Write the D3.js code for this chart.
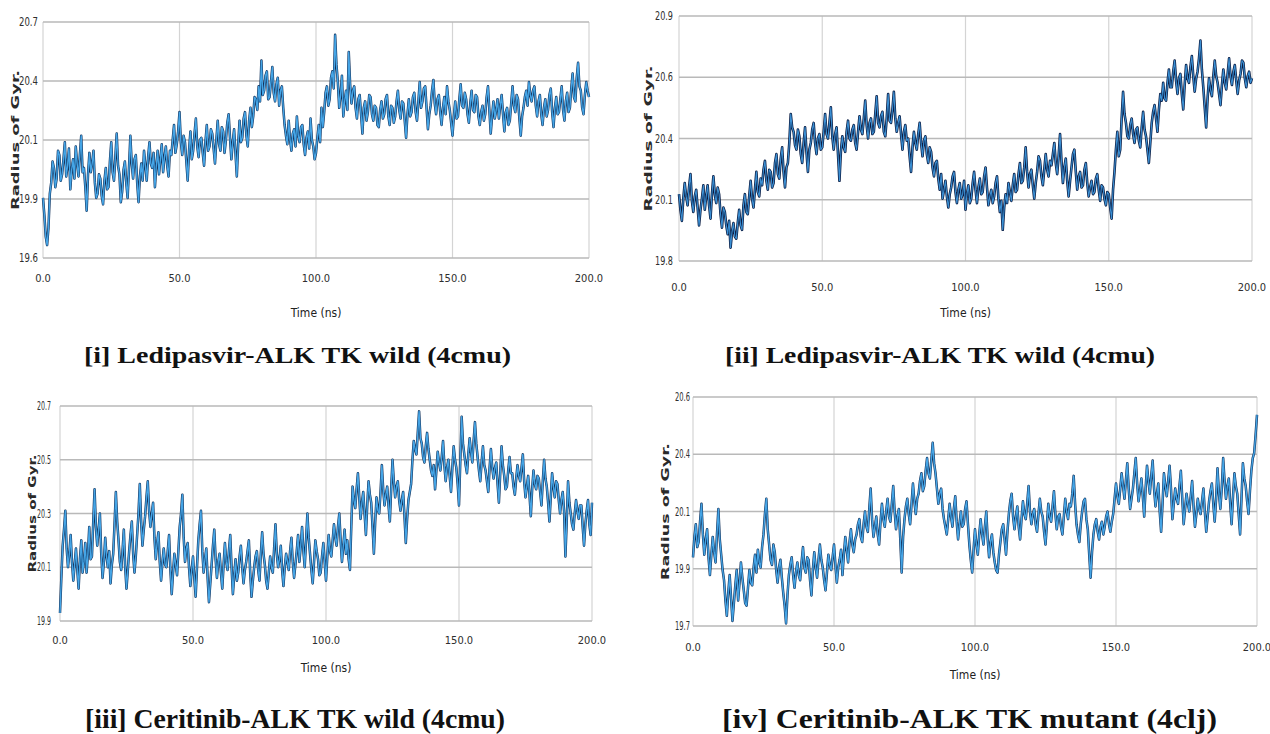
<!DOCTYPE html>
<html>
<head>
<meta charset="utf-8">
<script src="https://cdn.jsdelivr.net/npm/d3@7"></script>
<style>
  html, body { margin: 0; padding: 0; background: #fff; }
  svg { display: block; }
  .tick-label { font-family: "Liberation Sans Narrow", "DejaVu Sans Condensed", sans-serif; font-size: 11px; fill: #2e2e2e; }
  .tick-label.y { font-size: 12px; }
  .y-title { font-family: "DejaVu Sans", sans-serif; font-weight: bold; font-size: 11px; fill: #2a2a2a; }
  .x-title { font-family: "Liberation Sans Narrow", "DejaVu Sans Condensed", sans-serif; font-size: 12px; fill: #222; }
  .caption { font-family: "Liberation Serif", "DejaVu Serif", serif; font-weight: bold; font-size: 23px; fill: #111; }
  .caption.tall { font-size: 28px; }
</style>
</head>
<body>
<svg id="chart" width="1270" height="734"></svg>
<script>
// Simulation time axis (ns), one frame every 0.5 ns
const timeNs = d3.range(0, 200.5, 0.5);

// Radius of gyration along each trajectory
const rgLedipasvirA = [
  19.88, 19.80, 19.70, 19.66, 19.74, 19.90, 19.95, 20.05, 20.02, 19.93, 19.97, 20.10, 20.08, 19.96, 19.99, 20.06, 20.14, 19.98, 20.03, 20.11,
  19.92, 20.01, 20.06, 19.97, 20.12, 20.04, 19.98, 20.08, 20.17, 20.00, 20.02, 19.93, 19.82, 19.99, 20.09, 20.00, 20.04, 20.10, 19.95, 19.88,
  19.90, 19.99, 19.97, 19.89, 19.85, 19.96, 20.02, 19.92, 19.93, 20.05, 20.14, 20.00, 19.96, 20.07, 20.18, 20.03, 19.99, 19.86, 19.91, 20.01,
  20.05, 19.95, 19.88, 20.02, 20.17, 20.04, 19.97, 20.06, 20.08, 19.95, 19.86, 19.98, 20.04, 19.96, 20.10, 20.03, 19.96, 20.07, 20.14, 20.04,
  20.02, 20.09, 19.93, 20.03, 20.10, 19.99, 20.06, 20.13, 20.00, 20.07, 20.12, 20.03, 19.98, 20.10, 20.08, 20.15, 20.22, 20.09, 20.13, 20.19,
  20.28, 20.14, 20.08, 20.17, 20.14, 20.05, 19.96, 20.10, 20.19, 20.06, 20.10, 20.18, 20.25, 20.12, 20.07, 20.15, 20.16, 20.09, 20.03, 20.14,
  20.22, 20.10, 20.12, 20.20, 20.18, 20.11, 20.04, 20.15, 20.24, 20.13, 20.10, 20.21, 20.19, 20.09, 20.15, 20.23, 20.27, 20.16, 20.06, 20.14,
  20.20, 20.09, 19.98, 20.13, 20.24, 20.14, 20.16, 20.25, 20.28, 20.17, 20.12, 20.24, 20.30, 20.21, 20.26, 20.35, 20.34, 20.29, 20.40, 20.33,
  20.52, 20.36, 20.38, 20.45, 20.47, 20.34, 20.35, 20.42, 20.49, 20.37, 20.33, 20.41, 20.44, 20.31, 20.38, 20.40, 20.30, 20.22, 20.17, 20.13,
  20.24, 20.15, 20.10, 20.18, 20.20, 20.12, 20.26, 20.17, 20.14, 20.21, 20.22, 20.13, 20.08, 20.16, 20.19, 20.11, 20.25, 20.15, 20.12, 20.06,
  20.09, 20.16, 20.22, 20.14, 20.30, 20.21, 20.28, 20.37, 20.40, 20.31, 20.34, 20.44, 20.47, 20.39, 20.64, 20.50, 20.42, 20.30, 20.36, 20.45,
  20.26, 20.33, 20.38, 20.29, 20.56, 20.41, 20.32, 20.38, 20.40, 20.30, 20.25, 20.34, 20.36, 20.27, 20.18, 20.30, 20.33, 20.24, 20.28, 20.36,
  20.35, 20.27, 20.24, 20.31, 20.30, 20.22, 20.21, 20.29, 20.33, 20.25, 20.27, 20.34, 20.36, 20.26, 20.22, 20.31, 20.30, 20.23, 20.26, 20.33,
  20.38, 20.29, 20.25, 20.33, 20.32, 20.24, 20.16, 20.27, 20.34, 20.26, 20.28, 20.35, 20.37, 20.28, 20.24, 20.33, 20.42, 20.30, 20.33, 20.39,
  20.40, 20.30, 20.20, 20.27, 20.31, 20.38, 20.43, 20.32, 20.27, 20.34, 20.36, 20.28, 20.22, 20.30, 20.35, 20.27, 20.40, 20.33, 20.29, 20.23,
  20.17, 20.26, 20.33, 20.25, 20.26, 20.34, 20.41, 20.31, 20.30, 20.37, 20.34, 20.27, 20.23, 20.32, 20.38, 20.29, 20.28, 20.36, 20.35, 20.26,
  20.22, 20.28, 20.31, 20.24, 20.27, 20.35, 20.40, 20.29, 20.18, 20.26, 20.33, 20.25, 20.29, 20.34, 20.25, 20.31, 20.36, 20.27, 20.19, 20.28,
  20.30, 20.22, 20.24, 20.32, 20.40, 20.31, 20.28, 20.36, 20.34, 20.25, 20.17, 20.26, 20.30, 20.35, 20.38, 20.31, 20.42, 20.36, 20.33, 20.38,
  20.40, 20.31, 20.26, 20.33, 20.36, 20.27, 20.22, 20.30, 20.34, 20.26, 20.29, 20.36, 20.39, 20.28, 20.21, 20.30, 20.35, 20.27, 20.28, 20.34,
  20.40, 20.29, 20.24, 20.33, 20.37, 20.28, 20.30, 20.39, 20.46, 20.35, 20.33, 20.44, 20.51, 20.40, 20.38, 20.30, 20.27, 20.36, 20.42, 20.38,
  20.35
];

const rgLedipasvirB = [
  20.10, 20.03, 19.98, 20.08, 20.15, 20.09, 20.05, 20.13, 20.19, 20.07, 20.02, 20.09, 20.12, 20.04, 19.96, 20.03, 20.08, 20.14, 20.03, 20.09,
  20.14, 20.05, 19.99, 20.10, 20.18, 20.10, 20.06, 20.13, 20.10, 20.01, 19.95, 20.04, 20.02, 19.96, 19.92, 19.98, 19.86, 19.93, 19.97, 19.91,
  19.90, 19.97, 20.03, 19.96, 19.94, 20.05, 20.10, 20.02, 20.01, 20.09, 20.16, 20.08, 20.04, 20.12, 20.20, 20.11, 20.09, 20.17, 20.14, 20.21,
  20.25, 20.16, 20.12, 20.21, 20.20, 20.13, 20.15, 20.24, 20.28, 20.19, 20.17, 20.26, 20.31, 20.20, 20.13, 20.22, 20.24, 20.33, 20.46, 20.40,
  20.38, 20.32, 20.30, 20.39, 20.36, 20.28, 20.24, 20.33, 20.40, 20.29, 20.20, 20.30, 20.33, 20.39, 20.42, 20.33, 20.28, 20.35, 20.37, 20.30,
  20.31, 20.38, 20.46, 20.37, 20.35, 20.42, 20.49, 20.36, 20.30, 20.37, 20.40, 20.28, 20.16, 20.29, 20.36, 20.31, 20.29, 20.38, 20.43, 20.35,
  20.34, 20.39, 20.41, 20.33, 20.30, 20.38, 20.45, 20.39, 20.37, 20.44, 20.52, 20.41, 20.35, 20.42, 20.44, 20.37, 20.38, 20.46, 20.54, 20.42,
  20.40, 20.45, 20.47, 20.38, 20.36, 20.44, 20.55, 20.43, 20.42, 20.48, 20.56, 20.44, 20.38, 20.42, 20.45, 20.37, 20.30, 20.38, 20.41, 20.34,
  20.35, 20.27, 20.20, 20.31, 20.38, 20.33, 20.30, 20.37, 20.42, 20.33, 20.27, 20.34, 20.36, 20.28, 20.24, 20.31, 20.29, 20.22, 20.18, 20.24,
  20.25, 20.17, 20.12, 20.19, 20.08, 20.12, 20.16, 20.09, 20.04, 20.10, 20.13, 20.18, 20.20, 20.11, 20.06, 20.12, 20.15, 20.08, 20.10, 20.16,
  20.03, 20.10, 20.14, 20.06, 20.08, 20.15, 20.20, 20.12, 20.06, 20.13, 20.17, 20.10, 20.11, 20.18, 20.22, 20.13, 20.05, 20.09, 20.12, 20.06,
  20.09, 20.15, 20.18, 20.08, 20.02, 20.07, 19.94, 20.04, 20.10, 20.06, 20.15, 20.11, 20.07, 20.14, 20.19, 20.11, 20.12, 20.19, 20.24, 20.15,
  20.16, 20.22, 20.31, 20.20, 20.13, 20.19, 20.21, 20.14, 20.08, 20.15, 20.20, 20.27, 20.25, 20.18, 20.14, 20.21, 20.28, 20.21, 20.18, 20.25,
  20.23, 20.28, 20.33, 20.24, 20.19, 20.27, 20.37, 20.25, 20.15, 20.22, 20.26, 20.16, 20.09, 20.16, 20.22, 20.28, 20.30, 20.20, 20.12, 20.18,
  20.20, 20.13, 20.14, 20.21, 20.24, 20.15, 20.09, 20.13, 20.16, 20.10, 20.11, 20.17, 20.19, 20.12, 20.07, 20.14, 20.13, 20.08, 20.05, 20.11,
  20.10, 20.04, 19.99, 20.12, 20.20, 20.30, 20.38, 20.27, 20.30, 20.44, 20.56, 20.46, 20.42, 20.36, 20.35, 20.41, 20.44, 20.37, 20.33, 20.39,
  20.40, 20.34, 20.31, 20.40, 20.47, 20.39, 20.36, 20.30, 20.24, 20.33, 20.42, 20.47, 20.50, 20.44, 20.38, 20.48, 20.55, 20.52, 20.60, 20.53,
  20.52, 20.60, 20.66, 20.58, 20.58, 20.65, 20.70, 20.61, 20.55, 20.62, 20.64, 20.55, 20.48, 20.59, 20.68, 20.62, 20.60, 20.67, 20.72, 20.63,
  20.56, 20.62, 20.65, 20.71, 20.79, 20.66, 20.58, 20.49, 20.40, 20.53, 20.62, 20.57, 20.54, 20.63, 20.70, 20.63, 20.60, 20.55, 20.50, 20.59,
  20.66, 20.60, 20.57, 20.64, 20.71, 20.63, 20.59, 20.65, 20.68, 20.61, 20.55, 20.61, 20.64, 20.70, 20.69, 20.62, 20.58, 20.63, 20.65, 20.60,
  20.62
];

const rgCeritinibWild = [
  19.93, 20.06, 20.18, 20.24, 20.31, 20.17, 20.10, 20.15, 20.22, 20.12, 20.05, 20.11, 20.17, 20.09, 20.02, 20.13, 20.20, 20.08, 20.12, 20.19,
  20.08, 20.15, 20.25, 20.13, 20.14, 20.27, 20.39, 20.25, 20.18, 20.24, 20.30, 20.15, 20.06, 20.12, 20.21, 20.14, 20.10, 20.16, 20.04, 20.11,
  20.15, 20.26, 20.38, 20.27, 20.20, 20.12, 20.09, 20.16, 20.24, 20.10, 20.02, 20.09, 20.16, 20.22, 20.27, 20.15, 20.08, 20.14, 20.22, 20.30,
  20.41, 20.27, 20.18, 20.24, 20.29, 20.36, 20.42, 20.31, 20.25, 20.30, 20.34, 20.21, 20.13, 20.19, 20.23, 20.12, 20.05, 20.12, 20.17, 20.11,
  20.10, 20.16, 20.22, 20.09, 20.00, 20.08, 20.15, 20.11, 20.07, 20.16, 20.25, 20.30, 20.37, 20.21, 20.12, 20.17, 20.19, 20.10, 20.03, 20.09,
  20.14, 20.06, 19.99, 20.10, 20.20, 20.26, 20.31, 20.16, 20.08, 20.13, 20.17, 20.06, 19.97, 20.04, 20.11, 20.18, 20.24, 20.13, 20.06, 20.12,
  20.15, 20.08, 20.02, 20.11, 20.19, 20.12, 20.09, 20.16, 20.22, 20.10, 20.00, 20.07, 20.13, 20.05, 20.08, 20.14, 20.18, 20.10, 20.04, 20.09,
  20.12, 20.16, 20.20, 20.08, 19.99, 20.05, 20.10, 20.14, 20.16, 20.09, 20.05, 20.15, 20.23, 20.15, 20.11, 20.05, 20.02, 20.08, 20.14, 20.10,
  20.08, 20.17, 20.26, 20.15, 20.10, 20.13, 20.18, 20.09, 20.03, 20.10, 20.15, 20.12, 20.09, 20.16, 20.21, 20.12, 20.06, 20.11, 20.16, 20.22,
  20.12, 20.18, 20.25, 20.16, 20.10, 20.20, 20.30, 20.21, 20.15, 20.09, 20.04, 20.12, 20.20, 20.16, 20.13, 20.07, 20.08, 20.14, 20.19, 20.12,
  20.05, 20.14, 20.22, 20.16, 20.14, 20.20, 20.26, 20.21, 20.18, 20.25, 20.30, 20.20, 20.12, 20.18, 20.24, 20.15, 20.20, 20.13, 20.09, 20.25,
  20.40, 20.35, 20.32, 20.39, 20.45, 20.36, 20.28, 20.34, 20.38, 20.30, 20.22, 20.33, 20.42, 20.37, 20.34, 20.25, 20.15, 20.27, 20.36, 20.31,
  20.30, 20.38, 20.48, 20.39, 20.33, 20.37, 20.40, 20.33, 20.27, 20.39, 20.50, 20.42, 20.36, 20.40, 20.42, 20.35, 20.31, 20.35, 20.38, 20.29,
  20.19, 20.28, 20.35, 20.38, 20.41, 20.50, 20.57, 20.54, 20.52, 20.60, 20.68, 20.58, 20.56, 20.51, 20.49, 20.55, 20.60, 20.54, 20.50, 20.46,
  20.44, 20.48, 20.39, 20.46, 20.53, 20.49, 20.46, 20.51, 20.57, 20.48, 20.42, 20.47, 20.50, 20.44, 20.38, 20.47, 20.55, 20.50, 20.47, 20.41,
  20.33, 20.50, 20.66, 20.56, 20.52, 20.48, 20.45, 20.52, 20.58, 20.53, 20.49, 20.57, 20.64, 20.56, 20.51, 20.46, 20.42, 20.49, 20.55, 20.48,
  20.46, 20.42, 20.38, 20.47, 20.54, 20.47, 20.43, 20.47, 20.49, 20.41, 20.34, 20.45, 20.55, 20.48, 20.44, 20.39, 20.40, 20.46, 20.51, 20.45,
  20.45, 20.40, 20.37, 20.43, 20.48, 20.44, 20.42, 20.47, 20.52, 20.42, 20.36, 20.40, 20.44, 20.37, 20.29, 20.39, 20.46, 20.41, 20.39, 20.44,
  20.43, 20.38, 20.33, 20.42, 20.50, 20.43, 20.40, 20.34, 20.27, 20.36, 20.45, 20.40, 20.36, 20.42, 20.41, 20.35, 20.30, 20.35, 20.38, 20.31,
  20.14, 20.27, 20.42, 20.34, 20.30, 20.26, 20.24, 20.30, 20.35, 20.31, 20.28, 20.33, 20.33, 20.25, 20.18, 20.26, 20.31, 20.35, 20.26, 20.22,
  20.34
];

const rgCeritinibMutant = [
  19.97, 20.05, 20.10, 20.01, 20.03, 20.11, 20.18, 20.06, 19.98, 20.04, 20.08, 19.97, 19.90, 19.98, 20.05, 19.99, 19.95, 20.06, 20.16, 20.04,
  19.98, 19.92, 19.88, 19.80, 19.74, 19.83, 19.90, 19.81, 19.72, 19.79, 19.86, 19.92, 19.80, 19.87, 19.95, 19.89, 19.84, 19.79, 19.78, 19.85,
  19.92, 19.87, 19.86, 19.93, 19.98, 19.91, 20.00, 19.95, 19.93, 20.01, 20.06, 20.14, 20.20, 20.08, 20.02, 19.96, 19.94, 20.02, 19.99, 19.92,
  19.87, 19.93, 19.96, 19.89, 19.83, 19.78, 19.71, 19.82, 19.90, 19.94, 19.97, 19.90, 19.85, 19.91, 19.95, 19.90, 19.88, 19.95, 20.01, 19.93,
  19.91, 19.97, 19.96, 19.88, 19.82, 19.92, 19.99, 19.93, 19.89, 19.96, 20.02, 19.96, 19.93, 19.88, 19.84, 19.91, 19.98, 19.94, 19.92, 19.97,
  20.02, 19.94, 19.87, 19.93, 19.96, 20.00, 19.90, 19.98, 20.05, 20.00, 19.95, 20.03, 20.08, 20.02, 19.99, 20.04, 20.06, 20.10, 20.12, 20.05,
  20.03, 20.10, 20.15, 20.09, 20.07, 20.16, 20.24, 20.12, 20.05, 20.09, 20.13, 20.06, 20.02, 20.11, 20.18, 20.12, 20.09, 20.15, 20.20, 20.13,
  20.11, 20.18, 20.25, 20.15, 20.08, 20.13, 20.16, 20.04, 19.91, 20.05, 20.12, 20.17, 20.20, 20.14, 20.10, 20.18, 20.26, 20.19, 20.14, 20.20,
  20.22, 20.27, 20.30, 20.23, 20.25, 20.31, 20.36, 20.30, 20.28, 20.35, 20.42, 20.34, 20.30, 20.24, 20.18, 20.22, 20.24, 20.16, 20.12, 20.09,
  20.06, 20.12, 20.18, 20.13, 20.09, 20.16, 20.21, 20.11, 20.04, 20.10, 20.15, 20.09, 20.10, 20.16, 20.19, 20.10, 20.02, 19.96, 19.91, 20.00,
  20.08, 20.02, 19.98, 20.06, 20.12, 20.06, 20.02, 20.09, 20.15, 20.04, 19.97, 20.03, 20.06, 19.99, 19.95, 19.92, 19.91, 19.98, 20.03, 20.08,
  20.10, 20.04, 19.98, 20.07, 20.14, 20.19, 20.22, 20.13, 20.08, 20.13, 20.17, 20.09, 20.04, 20.12, 20.19, 20.14, 20.12, 20.18, 20.25, 20.15,
  20.10, 20.14, 20.16, 20.10, 20.07, 20.14, 20.20, 20.15, 20.13, 20.07, 20.02, 20.10, 20.18, 20.13, 20.11, 20.17, 20.23, 20.14, 20.08, 20.13,
  20.14, 20.09, 20.06, 20.13, 20.20, 20.15, 20.12, 20.18, 20.17, 20.22, 20.29, 20.18, 20.10, 20.06, 20.03, 20.10, 20.15, 20.19, 20.20, 20.12,
  20.08, 19.98, 19.89, 19.99, 20.06, 20.10, 20.12, 20.07, 20.04, 20.09, 20.11, 20.06, 20.09, 20.13, 20.15, 20.10, 20.07, 20.11, 20.14, 20.20,
  20.26, 20.21, 20.18, 20.24, 20.30, 20.25, 20.20, 20.27, 20.34, 20.24, 20.16, 20.20, 20.24, 20.30, 20.36, 20.26, 20.19, 20.23, 20.28, 20.21,
  20.13, 20.24, 20.33, 20.27, 20.22, 20.29, 20.35, 20.24, 20.17, 20.22, 20.26, 20.15, 20.07, 20.18, 20.30, 20.25, 20.21, 20.27, 20.33, 20.24,
  20.12, 20.18, 20.24, 20.20, 20.18, 20.25, 20.31, 20.20, 20.10, 20.16, 20.22, 20.18, 20.15, 20.21, 20.27, 20.17, 20.09, 20.14, 20.20, 20.16,
  20.14, 20.19, 20.24, 20.15, 20.07, 20.13, 20.19, 20.23, 20.26, 20.18, 20.11, 20.20, 20.32, 20.22, 20.16, 20.24, 20.36, 20.27, 20.20, 20.25,
  20.28, 20.18, 20.10, 20.21, 20.30, 20.25, 20.22, 20.14, 20.06, 20.20, 20.34, 20.28, 20.25, 20.19, 20.14, 20.23, 20.31, 20.36, 20.38, 20.45,
  20.53
];

// Axis ticks: x in ns; y ticks sit at evenly spaced values, labelled to one decimal
const xTickValues = [0, 50, 100, 150, 200];
const xTickLabels = ["0.0", "50.0", "100.0", "150.0", "200.0"];

const yTicksA = [19.6, 19.875, 20.15, 20.425, 20.7];
const yLabelsA = ["19.6", "19.9", "20.1", "20.4", "20.7"];
const yTicksB = [19.8, 20.075, 20.35, 20.625, 20.9];
const yLabelsB = ["19.8", "20.1", "20.4", "20.6", "20.9"];
const yTicksC = [19.9, 20.1, 20.3, 20.5, 20.7];
const yLabelsC = ["19.9", "20.1", "20.3", "20.5", "20.7"];
const yTicksD = [19.7, 19.925, 20.15, 20.375, 20.6];
const yLabelsD = ["19.7", "19.9", "20.1", "20.4", "20.6"];

const captions = [
  "[i] Ledipasvir-ALK TK wild  (4cmu)",
  "[ii] Ledipasvir-ALK TK wild  (4cmu)",
  "[iii] Ceritinib-ALK TK wild (4cmu)",
  "[iv] Ceritinib-ALK TK mutant (4clj)"
];

const yTitle = "Radius of Gyr.";
const xTitle = "Time (ns)";

// Panel geometry and styling
const panels = [
  { values: rgLedipasvirA, yTicks: yTicksA, yLabels: yLabelsA, caption: captions[0],
    x0: 43, x1: 589, y0: 22, y1: 258, yLabelX: 38, yLabelW: 19, xLabelY: 282,
    yTitleX: 15, yTitleLen: 140, xTitleY: 317,
    capX: 84, capY: 363, capLen: 427, capClass: "caption",
    dark: "#10305a", light: "#45a5e6", darkW: 2.5, lightW: 1.4 },
  { values: rgLedipasvirB, yTicks: yTicksB, yLabels: yLabelsB, caption: captions[1],
    x0: 679, x1: 1252, y0: 16, y1: 261, yLabelX: 673, yLabelW: 18, xLabelY: 291,
    yTitleX: 648, yTitleLen: 146, xTitleY: 317,
    capX: 725, capY: 363, capLen: 430, capClass: "caption",
    dark: "#0b1d44", light: "#3b90d4", darkW: 2.6, lightW: 1.1 },
  { values: rgCeritinibWild, yTicks: yTicksC, yLabels: yLabelsC, caption: captions[2],
    x0: 60, x1: 592, y0: 406, y1: 621, yLabelX: 51, yLabelW: 14, xLabelY: 644,
    yTitleX: 32, yTitleLen: 118, xTitleY: 672,
    capX: 85, capY: 728, capLen: 420, capClass: "caption tall",
    dark: "#10305a", light: "#45a5e6", darkW: 2.5, lightW: 1.4 },
  { values: rgCeritinibMutant, yTicks: yTicksD, yLabels: yLabelsD, caption: captions[3],
    x0: 693, x1: 1257, y0: 397, y1: 626, yLabelX: 690, yLabelW: 15, xLabelY: 651,
    yTitleX: 665, yTitleLen: 137, xTitleY: 679,
    capX: 722, capY: 728, capLen: 495, capClass: "caption tall",
    dark: "#10305a", light: "#45a5e6", darkW: 2.5, lightW: 1.4 }
];

const svg = d3.select("#chart");

panels.forEach(p => {
  const g = svg.append("g");
  const x = d3.scaleLinear().domain([0, 200]).range([p.x0, p.x1]);
  const y = d3.scaleLinear().domain([p.yTicks[0], p.yTicks[p.yTicks.length - 1]]).range([p.y1, p.y0]);

  // vertical grid
  g.append("g").selectAll("line").data(xTickValues).join("line")
    .attr("x1", d => x(d)).attr("x2", d => x(d))
    .attr("y1", p.y0).attr("y2", p.y1)
    .attr("stroke", "#d4d4d4").attr("stroke-width", 1.2);

  // horizontal grid
  g.append("g").selectAll("line").data(p.yTicks).join("line")
    .attr("x1", p.x0).attr("x2", p.x1)
    .attr("y1", d => y(d)).attr("y2", d => y(d))
    .attr("stroke", "#b9b9b9").attr("stroke-width", 1.6);

  // y tick labels (narrow)
  g.append("g").selectAll("text").data(p.yTicks).join("text")
    .attr("class", "tick-label y")
    .attr("x", p.yLabelX - p.yLabelW).attr("y", d => y(d))
    .attr("dy", "0.35em")
    .attr("textLength", p.yLabelW).attr("lengthAdjust", "spacingAndGlyphs")
    .text((d, i) => p.yLabels[i]);

  // x tick labels
  g.append("g").selectAll("text").data(xTickValues).join("text")
    .attr("class", "tick-label")
    .attr("x", d => x(d)).attr("y", p.xLabelY)
    .attr("text-anchor", "middle")
    .text((d, i) => xTickLabels[i]);

  // trajectory: dark outline under a lighter core
  const line = d3.line().x((d, i) => x(timeNs[i])).y(d => y(d));
  g.append("path").datum(p.values)
    .attr("d", line).attr("fill", "none")
    .attr("stroke", p.dark).attr("stroke-width", p.darkW).attr("stroke-linejoin", "round");
  g.append("path").datum(p.values)
    .attr("d", line).attr("fill", "none")
    .attr("stroke", p.light).attr("stroke-width", p.lightW).attr("stroke-linejoin", "round");

  // axis titles
  const cy = (p.y0 + p.y1) / 2;
  g.append("text").attr("class", "y-title")
    .attr("transform", `translate(${p.yTitleX},${cy}) rotate(-90)`)
    .attr("text-anchor", "middle").attr("dy", "0.35em")
    .attr("textLength", p.yTitleLen).attr("lengthAdjust", "spacingAndGlyphs")
    .text(yTitle);

  g.append("text").attr("class", "x-title")
    .attr("x", (p.x0 + p.x1) / 2).attr("y", p.xTitleY)
    .attr("text-anchor", "middle")
    .text(xTitle);

  // caption
  g.append("text").attr("class", p.capClass)
    .attr("x", p.capX).attr("y", p.capY)
    .attr("textLength", p.capLen).attr("lengthAdjust", "spacingAndGlyphs")
    .text(p.caption);
});
</script>
</body>
</html>
